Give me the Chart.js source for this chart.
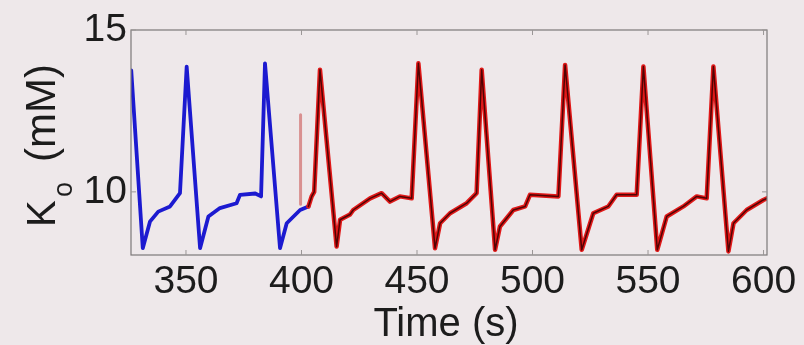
<!DOCTYPE html>
<html>
<head>
<meta charset="utf-8">
<script src="https://cdn.jsdelivr.net/npm/chart.js@4"></script>
<style>
  html, body { margin: 0; padding: 0; background: #eee8ea; }
  #wrap { width: 804px; height: 345px; }
</style>
</head>
<body>
<div id="wrap"><canvas id="koChart" width="804" height="345"></canvas></div>
<script>
// Werte
const blueTime = [326.3, 331.3, 334.4, 338, 343.1, 347.4, 350.3, 356.1, 359.7, 364.7, 371.9, 373.4, 380, 382.5, 384.2, 390.7, 393.6, 399.4, 403];
const blueK = [13.75, 8.26, 9.08, 9.39, 9.55, 9.96, 13.87, 8.26, 9.24, 9.5, 9.65, 9.91, 9.95, 9.86, 13.97, 8.26, 9.03, 9.44, 9.55];

const redTime = [403, 404.4, 405.5, 408, 415.2, 416.7, 421, 422.4, 429.7, 434.7, 438.3, 442.6, 447.7, 450.6, 457.8, 460, 464.3, 471.5, 475.8, 478, 483.8, 485.9, 491.7, 496.8, 498.9, 511.2, 514.1, 521.3, 526.3, 532.8, 536.4, 545.1, 548, 554, 558.1, 565.3, 571.1, 575.4, 578.3, 584.8, 587, 592.7, 599.9, 601.5];
const redK = [9.55, 9.86, 10.0, 13.77, 8.31, 9.14, 9.3, 9.44, 9.8, 9.96, 9.7, 9.86, 9.8, 13.97, 8.26, 9.03, 9.34, 9.65, 9.96, 13.77, 8.21, 8.93, 9.44, 9.55, 9.91, 9.86, 13.92, 8.21, 9.34, 9.55, 9.91, 9.91, 13.87, 8.21, 9.24, 9.55, 9.86, 9.8, 13.87, 8.16, 9.03, 9.44, 9.75, 9.8];

// kurzer heller Strich bei ca. 400 s
const spikeTime = [399.6, 399.6];
const spikeK = [12.38, 9.62];

const xTicks = [350, 400, 450, 500, 550, 600];
const yTicks = [10, 15];

const toPoints = (xs, ys) => xs.map((x, i) => ({ x: x, y: ys[i] }));

const FONT = '"Liberation Sans", Arial, sans-serif';
const TEXT_COLOR = '#1c1c1c';

// Rahmen, innere Tickstriche und Achsentitel
const frame = {
    id: 'frame',
    afterDatasetsDraw(chart) {
        const { ctx, chartArea: a, scales } = chart;
        ctx.save();
        ctx.strokeStyle = '#7c7878';
        ctx.lineWidth = 1.2;
        ctx.strokeRect(a.left, a.top, a.right - a.left, a.bottom - a.top);
        ctx.strokeStyle = '#9a9696';
        ctx.lineWidth = 1;
        xTicks.forEach(v => {
            const px = scales.x.getPixelForValue(v);
            ctx.beginPath();
            ctx.moveTo(px, a.top); ctx.lineTo(px, a.top + 5);
            ctx.moveTo(px, a.bottom); ctx.lineTo(px, a.bottom - 5);
            ctx.stroke();
        });
        yTicks.forEach(v => {
            const py = scales.y.getPixelForValue(v);
            ctx.beginPath();
            ctx.moveTo(a.left, py); ctx.lineTo(a.left + 5, py);
            ctx.moveTo(a.right, py); ctx.lineTo(a.right - 5, py);
            ctx.stroke();
        });
        ctx.restore();
    },
    afterDraw(chart) {
        const { ctx, chartArea: a } = chart;
        ctx.save();
        ctx.fillStyle = TEXT_COLOR;
        // x-Titel
        ctx.font = '40px ' + FONT;
        ctx.textAlign = 'center';
        ctx.textBaseline = 'alphabetic';
        ctx.fillText('Time (s)', (a.left + a.right) / 2 - 3, 336);
        // y-Titel mit tiefgestelltem o
        ctx.translate(55, 227);
        ctx.rotate(-Math.PI / 2);
        ctx.textAlign = 'left';
        ctx.font = '40px ' + FONT;
        ctx.fillText('K', 0, 0);
        ctx.font = '27px ' + FONT;
        ctx.fillText('o', 30, 17);
        ctx.font = '42px ' + FONT;
        ctx.fillText('(mM)', 65, 0);
        ctx.restore();
    }
};

// Reihenfolge: der erste Datensatz liegt oben
new Chart(document.getElementById('koChart'), {
    type: 'line',
    data: {
        datasets: [
            {
                // dunkle Linie über der roten
                data: toPoints(redTime, redK),
                borderColor: 'rgba(55, 0, 0, 0.85)',
                borderWidth: 1.5
            },
            {
                data: toPoints(redTime, redK),
                borderColor: '#e01818',
                borderWidth: 4.5
            },
            {
                data: toPoints(blueTime, blueK),
                borderColor: '#1c1ad0',
                borderWidth: 3.8
            },
            {
                data: toPoints(spikeTime, spikeK),
                borderColor: '#d99090',
                borderWidth: 3
            }
        ]
    },
    options: {
        responsive: false,
        animation: false,
        events: [],
        layout: { padding: { top: 30, right: 37, left: 0, bottom: 0 } },
        elements: {
            point: { radius: 0 },
            line: { tension: 0, borderJoinStyle: 'round', borderCapStyle: 'round' }
        },
        plugins: {
            legend: { display: false },
            tooltip: { enabled: false }
        },
        scales: {
            x: {
                type: 'linear',
                min: 326.2,
                max: 601.5,
                afterBuildTicks: s => { s.ticks = xTicks.map(v => ({ value: v })); },
                afterFit: s => { s.height = 90; },
                grid: { display: false, drawTicks: false },
                border: { display: false },
                ticks: {
                    padding: 4,
                    maxRotation: 0,
                    color: TEXT_COLOR,
                    font: { size: 39, family: FONT }
                }
            },
            y: {
                min: 8.05,
                max: 15,
                afterBuildTicks: s => { s.ticks = yTicks.map(v => ({ value: v })); },
                afterFit: s => { s.width = 131; },
                grid: { display: false, drawTicks: false },
                border: { display: false },
                ticks: {
                    padding: 4,
                    color: TEXT_COLOR,
                    font: { size: 39, family: FONT }
                }
            }
        }
    },
    plugins: [frame]
});
</script>
</body>
</html>
